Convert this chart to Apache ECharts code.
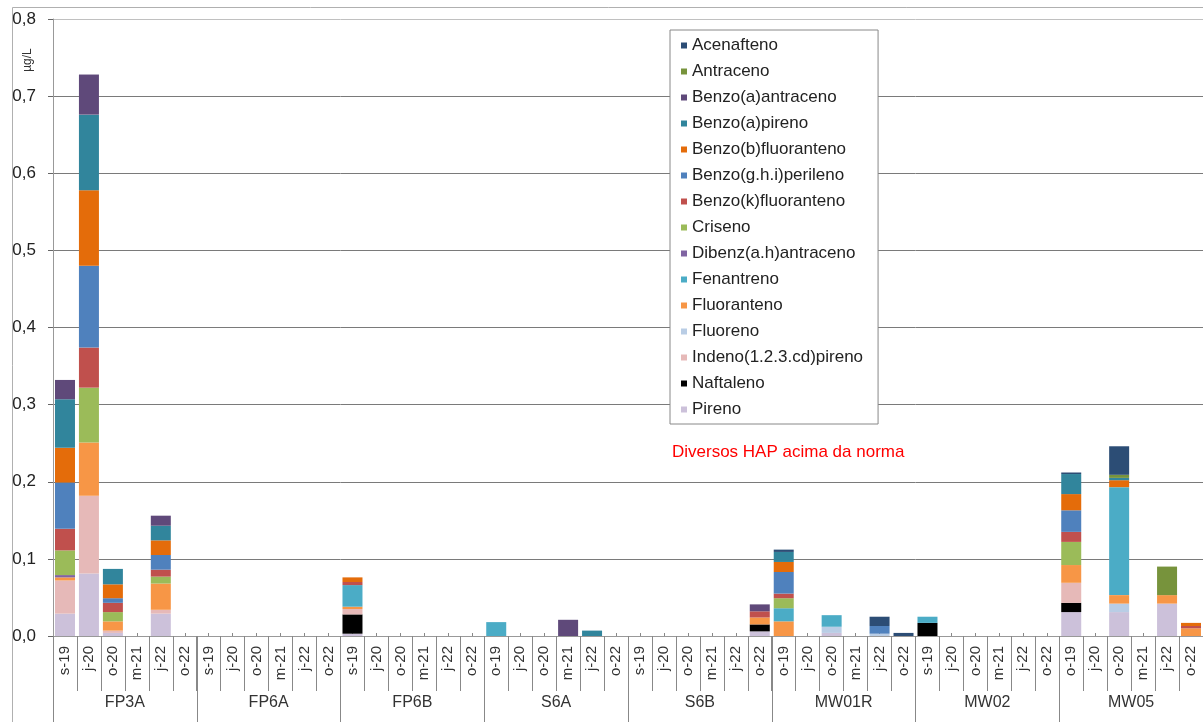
<!DOCTYPE html>
<html>
<head>
<meta charset="utf-8">
<script src="https://cdn.jsdelivr.net/npm/echarts@6/dist/echarts.min.js"></script>
<style>
html,body{margin:0;padding:0;background:#fff;}
#chart{width:1203px;height:722px;}
</style>
</head>
<body>
<div id="chart"></div>
<script>
// ---- tick labels / categories ----
const sites = ['FP3A','FP6A','FP6B','S6A','S6B','MW01R','MW02','MW05'];
const datesFP3A  = ['s-19','j-20','o-20','m-21','j-22','o-22'];
const datesFP6A  = ['s-19','j-20','o-20','m-21','j-22','o-22'];
const datesFP6B  = ['s-19','j-20','o-20','m-21','j-22','o-22'];
const datesS6A   = ['o-19','j-20','o-20','m-21','j-22','o-22'];
const datesS6B   = ['s-19','j-20','o-20','m-21','j-22','o-22'];
const datesMW01R = ['o-19','j-20','o-20','m-21','j-22','o-22'];
const datesMW02  = ['s-19','j-20','o-20','m-21','j-22','o-22'];
const datesMW05  = ['o-19','j-20','o-20','m-21','j-22','o-22'];
const yTicks = ['0,0','0,1','0,2','0,3','0,4','0,5','0,6','0,7','0,8'];

// ---- series values (µg/L), 6 per site: FP3A | FP6A | FP6B | S6A | S6B | MW01R | MW02 | MW05 ----
const Pireno      = [.029,.081,.004,0,.029,0, 0,0,0,0,0,0, .003,0,0,0,0,0, 0,0,0,0,0,0, 0,0,0,0,0,.006, 0,0,.004,0,0,0, 0,0,0,0,0,0, .031,0,.031,0,.042,0];
const Naftaleno   = [0,0,0,0,0,0, 0,0,0,0,0,0, .025,0,0,0,0,0, 0,0,0,0,0,0, 0,0,0,0,0,.009, 0,0,0,0,0,0, .017,0,0,0,0,0, .012,0,0,0,0,0];
const Indeno      = [.043,.101,.003,0,.005,0, 0,0,0,0,0,0, .007,0,0,0,0,0, 0,0,0,0,0,0, 0,0,0,0,0,0, 0,0,0,0,0,0, 0,0,0,0,0,0, .026,0,0,0,0,0];
const Fluoreno    = [0,0,0,0,0,0, 0,0,0,0,0,0, 0,0,0,0,0,0, 0,0,0,0,0,0, 0,0,0,0,0,0, 0,0,.008,0,.003,0, 0,0,0,0,0,0, 0,0,.011,0,0,0];
const Fluoranteno = [.004,.069,.012,0,.034,0, 0,0,0,0,0,0, .003,0,0,0,0,0, 0,0,0,0,0,0, 0,0,0,0,0,.009, .019,0,0,0,0,0, 0,0,0,0,0,0, .023,0,.011,0,.011,.010];
const Fenantreno  = [0,0,0,0,0,0, 0,0,0,0,0,0, .028,0,0,0,0,0, .018,0,0,0,0,0, 0,0,0,0,0,0, .017,0,.015,0,0,0, .008,0,0,0,0,0, 0,0,.140,0,0,0];
const Dibenz      = [.003,0,0,0,0,0, 0,0,0,0,0,0, 0,0,0,0,0,0, 0,0,0,0,0,0, 0,0,0,0,0,0, 0,0,0,0,0,0, 0,0,0,0,0,0, 0,0,0,0,0,0];
const Criseno     = [.032,.071,.012,0,.009,0, 0,0,0,0,0,0, 0,0,0,0,0,0, 0,0,0,0,0,0, 0,0,0,0,0,0, .013,0,0,0,0,0, 0,0,0,0,0,0, .030,0,0,0,0,0];
const BenzoK      = [.028,.052,.012,0,.009,0, 0,0,0,0,0,0, .004,0,0,0,0,0, 0,0,0,0,0,0, 0,0,0,0,0,.008, .006,0,0,0,0,0, 0,0,0,0,0,0, .013,0,0,0,0,.003];
const BenzoGHI    = [.060,.106,.006,0,.019,0, 0,0,0,0,0,0, 0,0,0,0,0,0, 0,0,0,0,0,0, 0,0,0,0,0,0, .028,0,0,0,.010,0, 0,0,0,0,0,0, .028,0,0,0,0,0];
const BenzoB      = [.045,.098,.018,0,.019,0, 0,0,0,0,0,0, .006,0,0,0,0,0, 0,0,0,0,0,0, 0,0,0,0,0,0, .013,0,0,0,0,0, 0,0,0,0,0,0, .021,0,.009,0,0,.004];
const BenzoAP     = [.063,.098,.020,0,.019,0, 0,0,0,0,0,0, 0,0,0,0,0,0, 0,0,0,0,.007,0, 0,0,0,0,0,0, .013,0,0,0,0,0, 0,0,0,0,0,0, .026,0,.003,0,0,0];
const BenzoAA     = [.025,.052,0,0,.013,0, 0,0,0,0,0,0, 0,0,0,0,0,0, 0,0,0,.021,0,0, 0,0,0,0,0,.009, 0,0,0,0,0,0, 0,0,0,0,0,0, 0,0,0,0,0,0];
const Antraceno   = [0,0,0,0,0,0, 0,0,0,0,0,0, 0,0,0,0,0,0, 0,0,0,0,0,0, 0,0,0,0,0,0, 0,0,0,0,0,0, 0,0,0,0,0,0, 0,0,.004,0,.037,0];
const Acenafteno  = [0,0,0,0,0,0, 0,0,0,0,0,0, 0,0,0,0,0,0, 0,0,0,0,0,0, 0,0,0,0,0,0, .003,0,0,0,.012,.004, 0,0,0,0,0,0, .002,0,.037,0,0,0];

// stacking order, bottom -> top
const stackNames = ['Pireno','Naftaleno','Indeno(1.2.3.cd)pireno','Fluoreno','Fluoranteno','Fenantreno',
  'Dibenz(a.h)antraceno','Criseno','Benzo(k)fluoranteno','Benzo(g.h.i)perileno','Benzo(b)fluoranteno',
  'Benzo(a)pireno','Benzo(a)antraceno','Antraceno','Acenafteno'];
const stackValues = [Pireno,Naftaleno,Indeno,Fluoreno,Fluoranteno,Fenantreno,Dibenz,Criseno,BenzoK,BenzoGHI,BenzoB,BenzoAP,BenzoAA,Antraceno,Acenafteno];
const stackColors = ['#ccc1da','#000000','#e6b9b8','#b9cde5','#f79646','#4bacc6',
  '#8064a2','#9bbb59','#c0504d','#4f81bd','#e46c0a','#31859c','#5f497a','#77933c','#2c4d75'];
const legendNames = stackNames.slice().reverse();

const allDates = [datesFP3A,datesFP6A,datesFP6B,datesS6A,datesS6B,datesMW01R,datesMW02,datesMW05];
const categories = [];
sites.forEach((s,i)=>allDates[i].forEach(d=>categories.push(s+'|'+d)));

const FONT = 'Liberation Sans, Arial, sans-serif';
const chart = echarts.init(document.getElementById('chart'));
chart.setOption({
  animation:false,
  backgroundColor:'#fff',
  textStyle:{fontFamily:FONT},
  grid:{left:53,right:-1,top:19,bottom:86,containLabel:false},
  legend:{
    data:legendNames, orient:'vertical', left:670, top:30,
    icon:'rect', itemWidth:6, itemHeight:6, itemGap:9,
    textStyle:{fontSize:17, lineHeight:17, color:'#222', fontFamily:FONT},
    borderColor:'#888', borderWidth:1, padding:[7,15,6,11],
    backgroundColor:'#fff', selectedMode:false
  },
  xAxis:[
    {type:'category', data:categories, position:'bottom',
     axisLine:{show:true,lineStyle:{color:'#999'}},
     axisTick:{show:true,interval:0,length:55,lineStyle:{color:'#888'}},
     axisLabel:{interval:0,rotate:90,margin:10,fontSize:15,color:'#333',
       formatter:v=>v.split('|')[1]},
     splitLine:{show:false}},
    {type:'category', data:sites, position:'bottom',
     axisLine:{show:false},
     axisTick:{show:true,interval:0,length:90,lineStyle:{color:'#888'}},
     axisLabel:{interval:0,margin:59,fontSize:16,color:'#333'},
     splitLine:{show:false}},
    {type:'category', data:categories, position:'bottom',
     axisLine:{show:false},
     axisTick:{show:true,interval:0,alignWithLabel:true,inside:true,length:3,lineStyle:{color:'#888'}},
     axisLabel:{show:false}, splitLine:{show:false}}
  ],
  yAxis:{
    type:'value', min:0, max:0.8, interval:0.1,
    axisLine:{show:true,lineStyle:{color:'#999'}},
    axisTick:{show:true,length:5,lineStyle:{color:'#666'}},
    axisLabel:{fontSize:17,color:'#222',margin:17,
      formatter:v=>yTicks[Math.round(v*10)]},
    splitLine:{show:true,lineStyle:{width:1,
      color:['#999','#7a7a7a','#7a7a7a','#7a7a7a','#7a7a7a','#7a7a7a','#7a7a7a','#7a7a7a','#c0c0c0']}}
  },
  series: stackNames.map((n,i)=>({
    name:n, type:'bar', stack:'total', xAxisIndex:0, barWidth:20,
    data:stackValues[i], itemStyle:{color:stackColors[i]},
    emphasis:{disabled:true}
  })),
  graphic:[
    {type:'rect', shape:{x:12.5,y:7.5,width:1300,height:800},
     style:{fill:'none',stroke:'#b0b0b0',lineWidth:1}, silent:true, z:-1},
    {type:'text', x:28, y:60, rotation:Math.PI/2,
     style:{text:'µg/L', fontSize:12, fill:'#333', align:'center', verticalAlign:'middle', fontFamily:FONT}},
    {type:'text', x:672, y:452,
     style:{text:'Diversos HAP acima da norma', fontSize:17, fill:'#ff0000', align:'left', verticalAlign:'middle', fontFamily:FONT}}
  ]
});
</script>
</body>
</html>
